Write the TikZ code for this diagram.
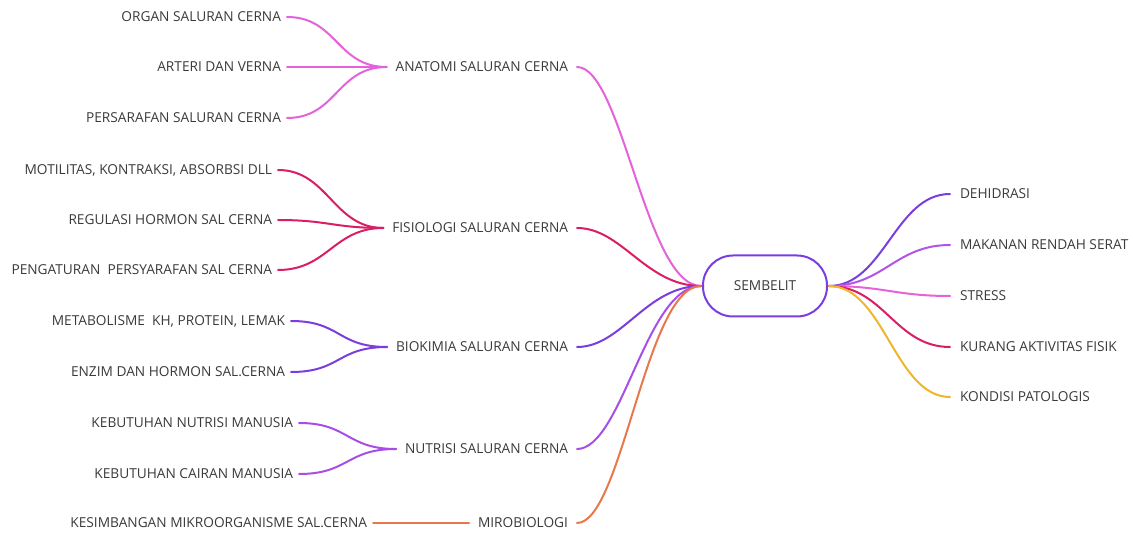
\documentclass[tikz,border=0pt]{standalone}
\usepackage{fontspec}
\setmainfont{Open Sans}
\definecolor{txt}{HTML}{3A3A3A}
\definecolor{canat}{HTML}{E462DA}
\definecolor{cfis}{HTML}{D91E65}
\definecolor{cbio}{HTML}{7A3EDE}
\definecolor{cnut}{HTML}{A84EE6}
\definecolor{cmir}{HTML}{E8784C}
\definecolor{cdeh}{HTML}{7A3EDC}
\definecolor{cmak}{HTML}{B354E6}
\definecolor{cstr}{HTML}{E662D8}
\definecolor{ckur}{HTML}{D91E65}
\definecolor{ckon}{HTML}{EFB52C}
\begin{document}
\begin{tikzpicture}[x=1pt,y=-1pt,
  lbl/.style={font=\fontsize{13.7}{16}\selectfont, text=txt, inner sep=1pt, text height=9.8pt, text depth=0pt},
  leaf/.style={lbl, anchor=east, outer sep=5pt},
  mid/.style={lbl, anchor=east, outer sep=8pt},
  rleaf/.style={lbl, anchor=west, outer sep=9pt},
  conn/.style={line width=2pt, line cap=round}]
\useasboundingbox (0,0) rectangle (1133,534);

% central node
\node[draw=cbio, line width=2pt, rounded corners=30pt, minimum width=124pt, minimum height=61pt,
      font=\fontsize{13.7}{16}\selectfont, text=txt, outer sep=2pt] (c) at (765,286) {SEMBELIT};

% mid nodes
\node[mid] (anat) at (577,67) {ANATOMI SALURAN CERNA};
\node[mid] (fis) at (577,228) {FISIOLOGI SALURAN CERNA};
\node[mid] (bio) at (577,347) {BIOKIMIA SALURAN CERNA};
\node[mid] (nut) at (577,449) {NUTRISI SALURAN CERNA};
\node[mid] (mir) at (577,523) {MIROBIOLOGI};

% leaves left
\node[leaf] (a1) at (287,17) {ORGAN SALURAN CERNA};
\node[leaf] (a2) at (287,67) {ARTERI DAN VERNA};
\node[leaf] (a3) at (287,118) {PERSARAFAN SALURAN CERNA};
\node[leaf] (f1) at (278,170) {MOTILITAS, KONTRAKSI, ABSORBSI DLL};
\node[leaf] (f2) at (278,220) {REGULASI HORMON SAL CERNA};
\node[leaf] (f3) at (278,270) {PENGATURAN\ \ PERSYARAFAN SAL CERNA};
\node[leaf] (b1) at (291,321) {METABOLISME\ \ KH, PROTEIN, LEMAK};
\node[leaf] (b2) at (291,372) {ENZIM DAN HORMON SAL.CERNA};
\node[leaf] (n1) at (299,423) {KEBUTUHAN NUTRISI MANUSIA};
\node[leaf] (n2) at (299,474) {KEBUTUHAN CAIRAN MANUSIA};
\node[leaf] (m1) at (373,523) {KESIMBANGAN MIKROORGANISME SAL.CERNA};

% leaves right
\node[rleaf] (r1) at (950,194) {DEHIDRASI};
\node[rleaf] (r2) at (950,245) {MAKANAN RENDAH SERAT};
\node[rleaf] (r3) at (950,296) {STRESS};
\node[rleaf] (r4) at (950,347) {KURANG AKTIVITAS FISIK};
\node[rleaf] (r5) at (950,397) {KONDISI PATOLOGIS};

% leaf connectors
\foreach \l/\m/\c in {a1/anat/canat,a2/anat/canat,a3/anat/canat,
                      f1/fis/cfis,f2/fis/cfis,f3/fis/cfis,
                      b1/bio/cbio,b2/bio/cbio,n1/nut/cnut,n2/nut/cnut}{
  \draw[conn,\c] (\l.east) .. controls ([xshift=50pt]\l.east) and ([xshift=-50pt]\m.west) .. (\m.west);
}
\draw[conn,cmir] (m1.east) -- (mir.west);

% mid to centre
\foreach \m/\c in {anat/canat,fis/cfis,bio/cbio,nut/cnut,mir/cmir}{
  \draw[conn,\c] (\m.east) .. controls ([xshift=45pt]\m.east) and ([xshift=-55pt]c.west) .. (c.west);
}

% centre to right
\foreach \r/\c in {r1/cdeh,r2/cmak,r3/cstr,r4/ckur,r5/ckon}{
  \draw[conn,\c] (c.east) .. controls ([xshift=55pt]c.east) and ([xshift=-55pt]\r.west) .. (\r.west);
}
\end{tikzpicture}
\end{document}
